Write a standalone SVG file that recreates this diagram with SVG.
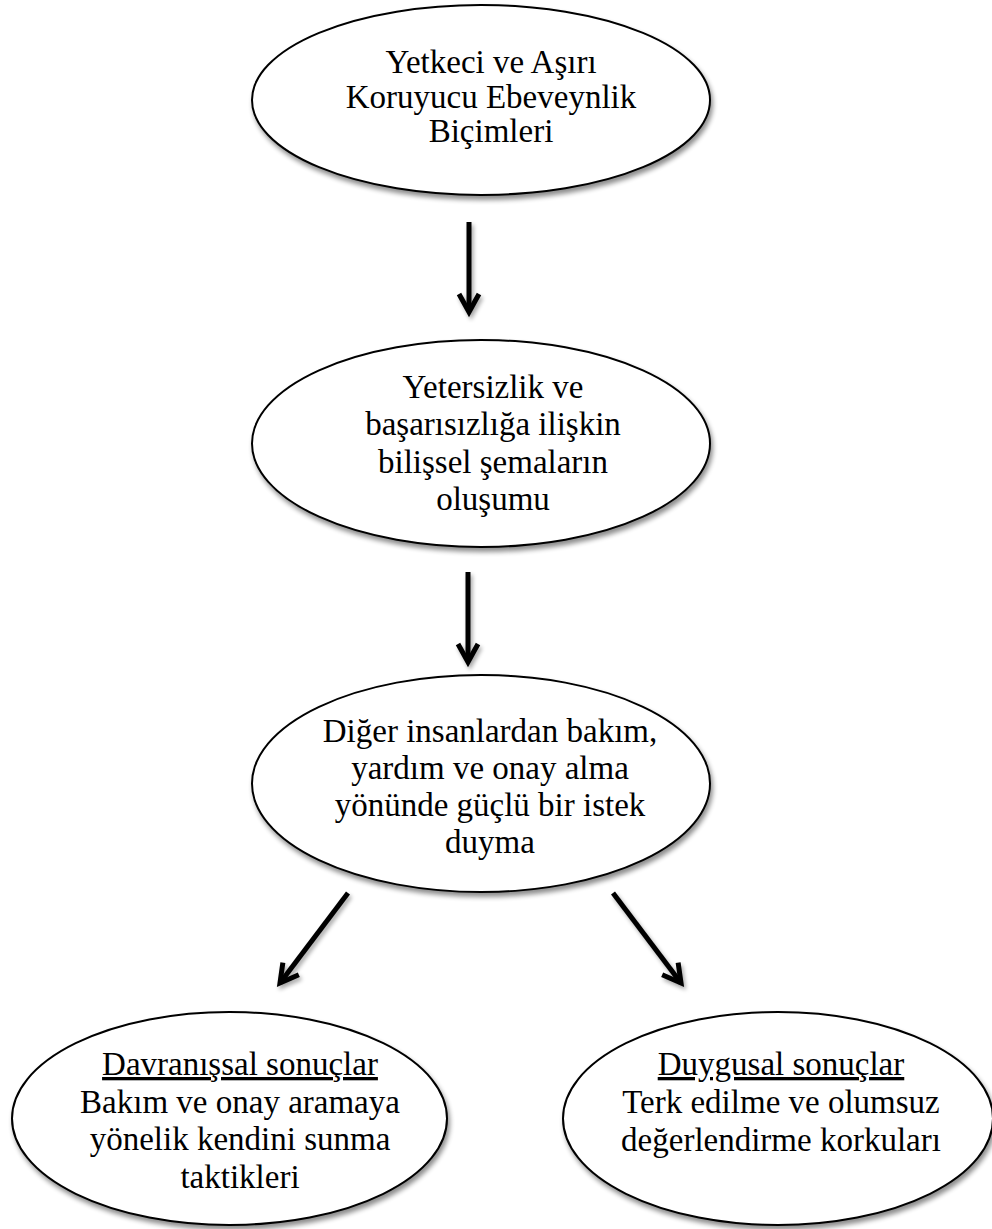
<svg xmlns="http://www.w3.org/2000/svg" width="992" height="1229" viewBox="0 0 992 1229">
<style>
.node ellipse { fill: #ffffff; stroke: #000000; stroke-width: 2; }
.node text { font-family: "Liberation Serif", "Times New Roman", serif; font-size: 33px; fill: #000000; text-anchor: middle; }
.u { text-decoration: underline; }
.conn line { stroke: #000000; stroke-width: 5; fill: none; }
</style>
<defs>
<filter id="sh" x="-10%" y="-10%" width="125%" height="130%">
<feGaussianBlur in="SourceAlpha" stdDeviation="2.5"/>
<feOffset dx="2" dy="4" result="b"/>
<feComponentTransfer><feFuncA type="linear" slope="0.45"/></feComponentTransfer>
<feMerge><feMergeNode/><feMergeNode in="SourceGraphic"/></feMerge>
</filter>
<filter id="ash" x="-50%" y="-50%" width="200%" height="200%">
<feGaussianBlur in="SourceAlpha" stdDeviation="2"/>
<feOffset dx="2" dy="3" result="b"/>
<feComponentTransfer><feFuncA type="linear" slope="0.35"/></feComponentTransfer>
<feMerge><feMergeNode/><feMergeNode in="SourceGraphic"/></feMerge>
</filter>
<marker id="ah" markerUnits="userSpaceOnUse" markerWidth="40" markerHeight="40" refX="0" refY="0" orient="auto" style="overflow:visible">
<path d="M -18 -10 L 0 0 L -18 10" fill="none" stroke="#000000" stroke-width="5" stroke-linejoin="miter"/>
</marker>
</defs>
<rect x="0" y="0" width="992" height="1229" fill="#ffffff"/>

<g id="connectors" class="conn" filter="url(#ash)">
<line x1="469" y1="222" x2="469" y2="312" marker-end="url(#ah)"/>
<line x1="468" y1="572" x2="468" y2="662" marker-end="url(#ah)"/>
<line x1="348" y1="893" x2="280" y2="983" marker-end="url(#ah)"/>
<line x1="613" y1="893" x2="681" y2="983" marker-end="url(#ah)"/>
</g>

<g id="node1" class="node">
<ellipse cx="481" cy="100" rx="229" ry="95" filter="url(#sh)"/>
<text x="491" y="73">Yetkeci ve Aşırı</text>
<text x="491" y="108">Koruyucu Ebeveynlik</text>
<text x="491" y="142">Biçimleri</text>
</g>

<g id="node2" class="node">
<ellipse cx="481" cy="443.5" rx="229" ry="103.5" filter="url(#sh)"/>
<text x="493" y="398">Yetersizlik ve</text>
<text x="493" y="435">başarısızlığa ilişkin</text>
<text x="493" y="473">bilişsel şemaların</text>
<text x="493" y="510">oluşumu</text>
</g>

<g id="node3" class="node">
<ellipse cx="481" cy="783.5" rx="229" ry="108.5" filter="url(#sh)"/>
<text x="490" y="742">Diğer insanlardan bakım,</text>
<text x="490" y="779">yardım ve onay alma</text>
<text x="490" y="816">yönünde güçlü bir istek</text>
<text x="490" y="853">duyma</text>
</g>

<g id="node4" class="node">
<ellipse cx="229.5" cy="1118.5" rx="217.5" ry="106.5" filter="url(#sh)"/>
<text x="240" y="1075" class="u">Davranışsal sonuçlar</text>
<text x="240" y="1113">Bakım ve onay aramaya</text>
<text x="240" y="1150">yönelik kendini sunma</text>
<text x="240" y="1188">taktikleri</text>
</g>

<g id="node5" class="node">
<ellipse cx="778" cy="1118.5" rx="215" ry="106.5" filter="url(#sh)"/>
<text x="781" y="1075" class="u">Duygusal sonuçlar</text>
<text x="781" y="1113">Terk edilme ve olumsuz</text>
<text x="781" y="1151">değerlendirme korkuları</text>
</g>
</svg>
